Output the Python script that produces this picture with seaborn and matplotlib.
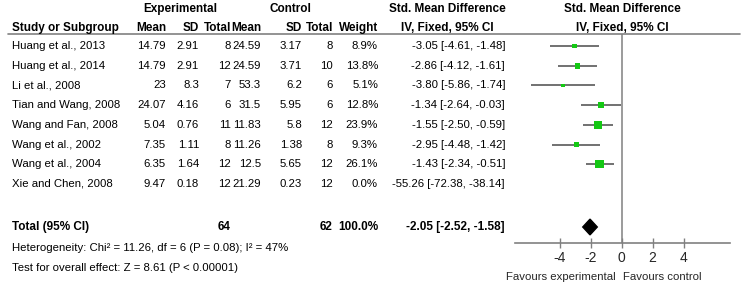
import numpy as np
import pandas as pd
import matplotlib
matplotlib.use("Agg")
import matplotlib.pyplot as plt
import seaborn as sns

# Study data
studies = ["Huang et al., 2013", "Huang et al., 2014", "Li et al., 2008",
           "Tian and Wang, 2008", "Wang and Fan, 2008", "Wang et al., 2002",
           "Wang et al., 2004", "Xie and Chen, 2008"]
exp_mean = ["14.79", "14.79", "23", "24.07", "5.04", "7.35", "6.35", "9.47"]
exp_sd = ["2.91", "2.91", "8.3", "4.16", "0.76", "1.11", "1.64", "0.18"]
exp_n = [8, 12, 7, 6, 11, 8, 12, 12]
ctl_mean = ["24.59", "24.59", "53.3", "31.5", "11.83", "11.26", "12.5", "21.29"]
ctl_sd = ["3.17", "3.71", "6.2", "5.95", "5.8", "1.38", "5.65", "0.23"]
ctl_n = [8, 10, 6, 6, 12, 8, 12, 12]
weight = [8.9, 13.8, 5.1, 12.8, 23.9, 9.3, 26.1, 0.0]
smd = [-3.05, -2.86, -3.80, -1.34, -1.55, -2.95, -1.43, -55.26]
ci_lo = [-4.61, -4.12, -5.86, -2.64, -2.50, -4.48, -2.34, -72.38]
ci_hi = [-1.48, -1.61, -1.74, -0.03, -0.59, -1.42, -0.51, -38.14]
total_exp_n, total_ctl_n = 64, 62
total_smd, total_lo, total_hi = -2.05, -2.52, -1.58
heterogeneity = "Heterogeneity: Chi\u00b2 = 11.26, df = 6 (P = 0.08); I\u00b2 = 47%"
overall = "Test for overall effect: Z = 8.61 (P < 0.00001)"
ticks = [-4, -2, 0, 2, 4]

df = pd.DataFrame({"study": studies, "weight": weight, "smd": smd,
                   "lo": ci_lo, "hi": ci_hi})
df["row"] = np.arange(len(df))

sns.set_theme(style="white")
plt.rcParams["font.family"] = ["Liberation Sans", "DejaVu Sans"]
plt.rcParams["axes.unicode_minus"] = False
fs = 8.2
fsb = 8.5

fig = plt.figure(figsize=(7.43, 2.87), dpi=100)

# full-figure axes in pixel coordinates for the table text
tab = fig.add_axes([0, 0, 1, 1])
tab.set_xlim(0, 743)
tab.set_ylim(287, 0)
tab.axis("off")

row_y0, row_dy = 46, 19.7
total_y = 227

def t(x, y, s, ha="right", bold=False):
    tab.text(x, y, s, ha=ha, va="center", fontsize=fsb if bold else fs,
             fontweight="bold" if bold else "normal", color="black")

# headers
t(180, 9, "Experimental", ha="center", bold=True)
t(290, 9, "Control", ha="center", bold=True)
t(447, 9, "Std. Mean Difference", ha="center", bold=True)
t(622, 9, "Std. Mean Difference", ha="center", bold=True)
t(12, 28, "Study or Subgroup", ha="left", bold=True)
cols = [166, 199, 231, 261, 302, 333, 378]
for x, s in zip(cols, ["Mean", "SD", "Total", "Mean", "SD", "Total", "Weight"]):
    t(x, 28, s, bold=True)
t(447, 28, "IV, Fixed, 95% CI", ha="center", bold=True)
t(622, 28, "IV, Fixed, 95% CI", ha="center", bold=True)
tab.plot([8, 740], [34, 34], color="#808080", lw=1.2)

for i in range(len(studies)):
    y = row_y0 + row_dy * i
    t(12, y, studies[i], ha="left")
    vals = [exp_mean[i], exp_sd[i], exp_n[i], ctl_mean[i], ctl_sd[i], ctl_n[i],
            f"{weight[i]:.1f}%"]
    for x, v in zip(cols, vals):
        t(x, y, str(v))
    t(505, y, f"{smd[i]:.2f} [{ci_lo[i]:.2f}, {ci_hi[i]:.2f}]")

t(12, total_y, "Total (95% CI)", ha="left", bold=True)
t(cols[2], total_y, str(total_exp_n), bold=True)
t(cols[5], total_y, str(total_ctl_n), bold=True)
t(cols[6], total_y, "100.0%", bold=True)
t(505, total_y, f"{total_smd:.2f} [{total_lo:.2f}, {total_hi:.2f}]", bold=True)
t(12, 248, heterogeneity, ha="left")
t(12, 268, overall, ha="left")

# forest plot axes
ax = fig.add_axes([515 / 743, 1 - 243 / 287, 215 / 743, 209 / 287])
ax.set_xlim(-6.9, 7.0)
ax.set_ylim((243 - row_y0) / row_dy, (34 - row_y0) / row_dy)
ax.patch.set_alpha(0)

ax.hlines(df["row"], df["lo"], df["hi"], color="#4a4a4a", lw=1.1, zorder=2)
sns.scatterplot(data=df[df["weight"] > 0], x="smd", y="row", size="weight",
                sizes=(6, 36), size_norm=(5.1, 26.1), marker="s",
                color="#14c814", edgecolor="none", legend=False, ax=ax, zorder=3)

ty = (total_y - row_y0) / row_dy
h = 0.4
ax.fill([total_lo, total_smd, total_hi, total_smd], [ty, ty - h, ty, ty + h],
        color="black", zorder=3)
ax.axvline(0, color="#808080", lw=1.1, zorder=1)

for side in ["top", "right", "left"]:
    ax.spines[side].set_visible(False)
ax.spines["bottom"].set_color("#808080")
ax.spines["bottom"].set_linewidth(1.2)
ax.set_yticks([])
ax.set_xticks(ticks)
ax.tick_params(axis="x", direction="inout", length=7, width=1, color="#808080",
               labelsize=10, pad=2, bottom=True)
ax.set_xlabel("")
ax.set_ylabel("")

tab.text(561, 277, "Favours experimental", ha="center", va="center", fontsize=fs)
tab.text(662, 277, "Favours control", ha="center", va="center", fontsize=fs)

fig.savefig("out.png", dpi=100)
